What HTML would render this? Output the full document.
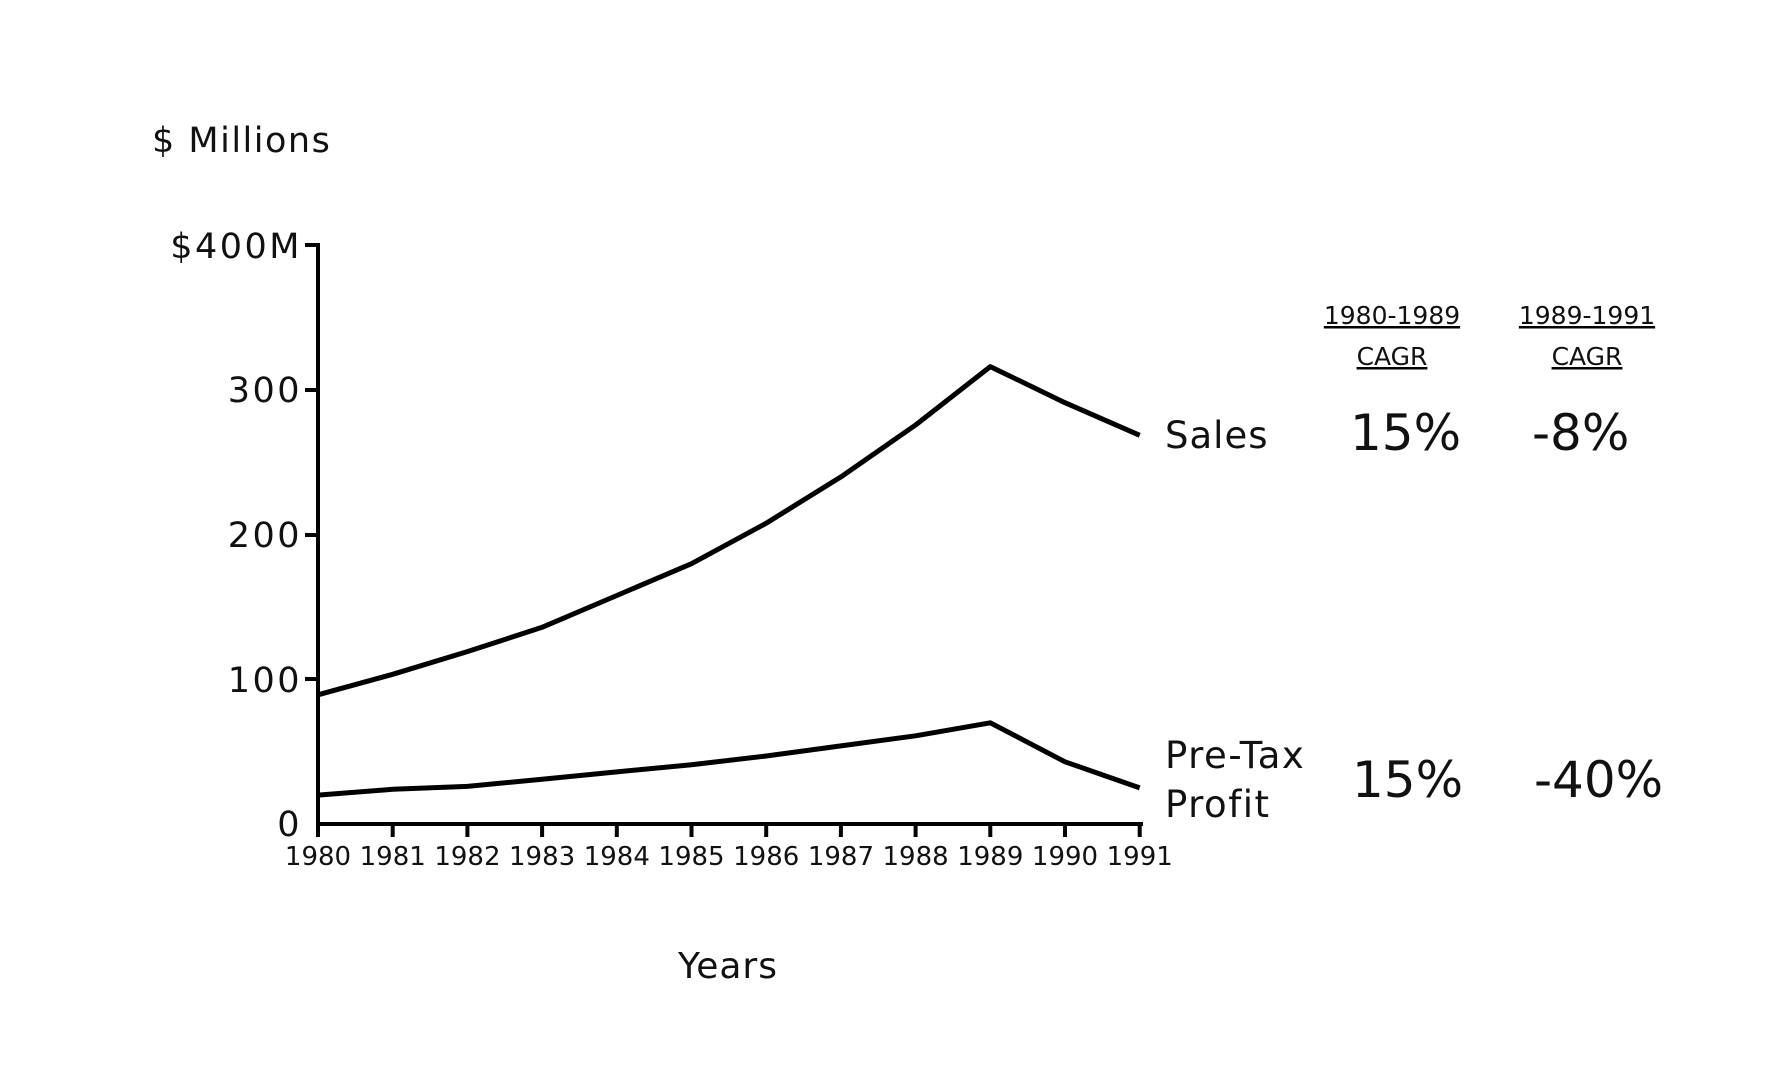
<!DOCTYPE html>
<html><head><meta charset="utf-8"><style>
html,body{margin:0;padding:0;background:#fff;}
svg{display:block;}
text{font-family:"DejaVu Sans","Liberation Sans",sans-serif;fill:#111;}
</style></head><body>
<svg width="1786" height="1082" viewBox="0 0 1786 1082">
<text x="152" y="152" font-size="35" letter-spacing="1.5">$ Millions</text>
<g transform="translate(0,-3)">
<g stroke="#000" stroke-width="4" fill="none">
<line x1="318" y1="246" x2="318" y2="829"/>
<line x1="316" y1="827" x2="1143" y2="827"/>
<line x1="305" y1="248" x2="318" y2="248"/>
<line x1="305" y1="393" x2="318" y2="393"/>
<line x1="305" y1="538" x2="318" y2="538"/>
<line x1="305" y1="682" x2="318" y2="682"/>
<path d="M318 827v13M392.7 827v13M467.4 827v13M542.1 827v13M616.8 827v13M691.5 827v13M766.2 827v13M840.9 827v13M915.6 827v13M990.3 827v13M1065 827v13M1139.7 827v13"/>
</g>
<g font-size="35" text-anchor="end" letter-spacing="2.5">
<text x="302" y="261">$400M</text>
<text x="302" y="405">300</text>
<text x="302" y="550">200</text>
<text x="302" y="695">100</text>
<text x="302" y="839">0</text>
</g>
<g font-size="26" text-anchor="middle">
<text x="318" y="868">1980</text><text x="392.7" y="868">1981</text><text x="467.4" y="868">1982</text><text x="542.1" y="868">1983</text><text x="616.8" y="868">1984</text><text x="691.5" y="868">1985</text><text x="766.2" y="868">1986</text><text x="840.9" y="868">1987</text><text x="915.6" y="868">1988</text><text x="990.3" y="868">1989</text><text x="1065" y="868">1990</text><text x="1139.7" y="868">1991</text>
</g>
<g stroke="#000" stroke-width="5" fill="none" stroke-linejoin="round">
<polyline points="318,697.8 392.7,677.3 466.5,654.9 542.1,630.3 616.8,598.5 691.5,566.7 766.2,526.2 840.9,479.9 915.6,428.0 990.3,369.6 1065,405.7 1139.7,438.3"/>
<polyline points="318,798.1 392.7,792.3 467.4,789.4 542.1,782.2 616.8,774.9 691.5,767.7 766.2,759.0 840.9,748.9 915.6,738.8 990.3,725.8 1065,764.8 1139.7,790.9"/>
</g>
</g>
<text x="1165" y="448" font-size="37" letter-spacing="1">Sales</text>
<text x="1165" y="768" font-size="37" letter-spacing="1.5">Pre-Tax</text>
<text x="1165" y="817" font-size="37" letter-spacing="1.5">Profit</text>
<g font-size="25" text-anchor="middle" text-decoration="underline">
<text x="1392" y="324">1980-1989</text>
<text x="1392" y="365">CAGR</text>
<text x="1587" y="324">1989-1991</text>
<text x="1587" y="365">CAGR</text>
</g>
<g font-size="50">
<text x="1350" y="450">15%</text>
<text x="1532" y="450">-8%</text>
<text x="1352" y="797">15%</text>
<text x="1534" y="797">-40%</text>
</g>
<text x="728" y="978" font-size="36" text-anchor="middle" letter-spacing="1">Years</text>
</svg>
</body></html>
